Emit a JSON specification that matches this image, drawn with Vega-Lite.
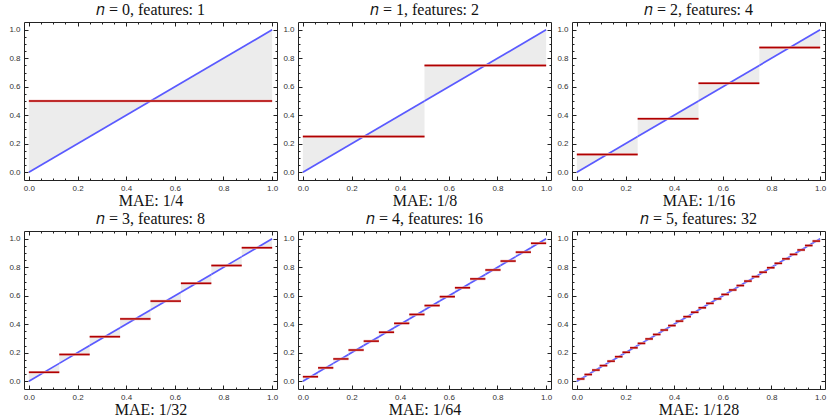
{
  "$schema": "https://vega.github.io/schema/vega-lite/v6.json",
  "padding": {"left": 8, "top": 1, "right": 5, "bottom": 0},
  "background": "white",
  "config": {
    "view": {"stroke": "#222222", "strokeWidth": 1},
    "axis": {"domain": false, "grid": false, "tickColor": "#222222", "tickWidth": 1, "labelFont": "Liberation Sans", "labelFontSize": 8, "labelColor": "#333333", "labelFlush": false, "labelOverlap": false, "labelBound": false},
    "title": {"font": "Liberation Serif", "fontSize": 16, "fontWeight": "normal", "color": "#111111", "anchor": "middle", "offset": 4, "baseline": "alphabetic", "frame": "group"}
  },
  "datasets": {
    "seg": [
      {"p": 0, "a": 0, "b": 1, "c": 0.5},
      {"p": 1, "a": 0, "b": 0.5, "c": 0.25},
      {"p": 1, "a": 0.5, "b": 1, "c": 0.75},
      {"p": 2, "a": 0, "b": 0.25, "c": 0.125},
      {"p": 2, "a": 0.25, "b": 0.5, "c": 0.375},
      {"p": 2, "a": 0.5, "b": 0.75, "c": 0.625},
      {"p": 2, "a": 0.75, "b": 1, "c": 0.875},
      {"p": 3, "a": 0, "b": 0.125, "c": 0.0625},
      {"p": 3, "a": 0.125, "b": 0.25, "c": 0.1875},
      {"p": 3, "a": 0.25, "b": 0.375, "c": 0.3125},
      {"p": 3, "a": 0.375, "b": 0.5, "c": 0.4375},
      {"p": 3, "a": 0.5, "b": 0.625, "c": 0.5625},
      {"p": 3, "a": 0.625, "b": 0.75, "c": 0.6875},
      {"p": 3, "a": 0.75, "b": 0.875, "c": 0.8125},
      {"p": 3, "a": 0.875, "b": 1, "c": 0.9375},
      {"p": 4, "a": 0, "b": 0.0625, "c": 0.03125},
      {"p": 4, "a": 0.0625, "b": 0.125, "c": 0.09375},
      {"p": 4, "a": 0.125, "b": 0.1875, "c": 0.15625},
      {"p": 4, "a": 0.1875, "b": 0.25, "c": 0.21875},
      {"p": 4, "a": 0.25, "b": 0.3125, "c": 0.28125},
      {"p": 4, "a": 0.3125, "b": 0.375, "c": 0.34375},
      {"p": 4, "a": 0.375, "b": 0.4375, "c": 0.40625},
      {"p": 4, "a": 0.4375, "b": 0.5, "c": 0.46875},
      {"p": 4, "a": 0.5, "b": 0.5625, "c": 0.53125},
      {"p": 4, "a": 0.5625, "b": 0.625, "c": 0.59375},
      {"p": 4, "a": 0.625, "b": 0.6875, "c": 0.65625},
      {"p": 4, "a": 0.6875, "b": 0.75, "c": 0.71875},
      {"p": 4, "a": 0.75, "b": 0.8125, "c": 0.78125},
      {"p": 4, "a": 0.8125, "b": 0.875, "c": 0.84375},
      {"p": 4, "a": 0.875, "b": 0.9375, "c": 0.90625},
      {"p": 4, "a": 0.9375, "b": 1, "c": 0.96875},
      {"p": 5, "a": 0, "b": 0.03125, "c": 0.015625},
      {"p": 5, "a": 0.03125, "b": 0.0625, "c": 0.046875},
      {"p": 5, "a": 0.0625, "b": 0.09375, "c": 0.078125},
      {"p": 5, "a": 0.09375, "b": 0.125, "c": 0.109375},
      {"p": 5, "a": 0.125, "b": 0.15625, "c": 0.140625},
      {"p": 5, "a": 0.15625, "b": 0.1875, "c": 0.171875},
      {"p": 5, "a": 0.1875, "b": 0.21875, "c": 0.203125},
      {"p": 5, "a": 0.21875, "b": 0.25, "c": 0.234375},
      {"p": 5, "a": 0.25, "b": 0.28125, "c": 0.265625},
      {"p": 5, "a": 0.28125, "b": 0.3125, "c": 0.296875},
      {"p": 5, "a": 0.3125, "b": 0.34375, "c": 0.328125},
      {"p": 5, "a": 0.34375, "b": 0.375, "c": 0.359375},
      {"p": 5, "a": 0.375, "b": 0.40625, "c": 0.390625},
      {"p": 5, "a": 0.40625, "b": 0.4375, "c": 0.421875},
      {"p": 5, "a": 0.4375, "b": 0.46875, "c": 0.453125},
      {"p": 5, "a": 0.46875, "b": 0.5, "c": 0.484375},
      {"p": 5, "a": 0.5, "b": 0.53125, "c": 0.515625},
      {"p": 5, "a": 0.53125, "b": 0.5625, "c": 0.546875},
      {"p": 5, "a": 0.5625, "b": 0.59375, "c": 0.578125},
      {"p": 5, "a": 0.59375, "b": 0.625, "c": 0.609375},
      {"p": 5, "a": 0.625, "b": 0.65625, "c": 0.640625},
      {"p": 5, "a": 0.65625, "b": 0.6875, "c": 0.671875},
      {"p": 5, "a": 0.6875, "b": 0.71875, "c": 0.703125},
      {"p": 5, "a": 0.71875, "b": 0.75, "c": 0.734375},
      {"p": 5, "a": 0.75, "b": 0.78125, "c": 0.765625},
      {"p": 5, "a": 0.78125, "b": 0.8125, "c": 0.796875},
      {"p": 5, "a": 0.8125, "b": 0.84375, "c": 0.828125},
      {"p": 5, "a": 0.84375, "b": 0.875, "c": 0.859375},
      {"p": 5, "a": 0.875, "b": 0.90625, "c": 0.890625},
      {"p": 5, "a": 0.90625, "b": 0.9375, "c": 0.921875},
      {"p": 5, "a": 0.9375, "b": 0.96875, "c": 0.953125},
      {"p": 5, "a": 0.96875, "b": 1, "c": 0.984375}
    ]
  },
  "columns": 3,
  "bounds": "flush",
  "spacing": {"row": 51, "column": 21},
  "concat": [
    {
      "width": 253, "height": 158,
      "title": "𝑛 = 0, features: 1",
      "data": {"name": "seg"},
      "transform": [{"filter": "datum.p == 0"}],
      "resolve": {"axis": {"x": "independent", "y": "independent"}},
      "layer": [
        {"mark": {"type": "area", "color": "#ececec"}, "transform": [{"fold": ["a", "b"], "as": ["k", "v"]}],
         "encoding": {
           "x": {"field": "v", "type": "quantitative", "scale": {"domain": [-0.02, 1.02], "nice": false, "zero": false}, "axis": {"orient": "bottom", "values": [0, 0.2, 0.4, 0.6, 0.8, 1], "format": ".1f", "tickSize": -4, "labelPadding": 8, "title": "MAE: 1/4", "titleFont": "Liberation Serif", "titleFontSize": 16, "titleFontWeight": "normal", "titleColor": "#111111", "titlePadding": 0}},
           "y": {"field": "c", "type": "quantitative", "scale": {"domain": [-0.055, 1.055], "nice": false, "zero": false}, "axis": {"orient": "left", "values": [0, 0.2, 0.4, 0.6, 0.8, 1], "format": ".1f", "tickSize": -4, "labelPadding": 8, "title": null}},
           "y2": {"field": "v"},
           "detail": {"field": "a", "type": "quantitative"}
         }},
        {"mark": {"type": "rule", "color": "#5a5aff", "strokeWidth": 1.7},
         "encoding": {
           "x": {"field": "a", "type": "quantitative", "scale": {"domain": [-0.02, 1.02], "nice": false, "zero": false}, "axis": {"orient": "bottom", "values": [0.05, 0.1, 0.15, 0.25, 0.3, 0.35, 0.45, 0.5, 0.55, 0.65, 0.7, 0.75, 0.85, 0.9, 0.95], "tickSize": -2, "labels": false, "title": null}},
           "x2": {"field": "b"},
           "y": {"field": "a", "type": "quantitative", "scale": {"domain": [-0.055, 1.055], "nice": false, "zero": false}, "axis": {"orient": "left", "values": [0.05, 0.1, 0.15, 0.25, 0.3, 0.35, 0.45, 0.5, 0.55, 0.65, 0.7, 0.75, 0.85, 0.9, 0.95], "tickSize": -2, "labels": false, "title": null}},
           "y2": {"field": "b"}
         }},
        {"mark": {"type": "rule", "color": "#eab0b0", "strokeWidth": 2.6},
         "encoding": {
           "x": {"field": "a", "type": "quantitative", "scale": {"domain": [-0.02, 1.02], "nice": false, "zero": false}, "axis": {"orient": "top", "values": [0, 0.2, 0.4, 0.6, 0.8, 1], "tickSize": -4, "labels": false, "title": null}},
           "x2": {"field": "b"},
           "y": {"field": "c", "type": "quantitative", "scale": {"domain": [-0.055, 1.055], "nice": false, "zero": false}, "axis": {"orient": "right", "values": [0, 0.2, 0.4, 0.6, 0.8, 1], "tickSize": -4, "labels": false, "title": null}}
         }},
        {"mark": {"type": "rule", "color": "#b00000", "strokeWidth": 1.5},
         "encoding": {
           "x": {"field": "a", "type": "quantitative", "scale": {"domain": [-0.02, 1.02], "nice": false, "zero": false}, "axis": {"orient": "top", "values": [0.05, 0.1, 0.15, 0.25, 0.3, 0.35, 0.45, 0.5, 0.55, 0.65, 0.7, 0.75, 0.85, 0.9, 0.95], "tickSize": -2, "labels": false, "title": null}},
           "x2": {"field": "b"},
           "y": {"field": "c", "type": "quantitative", "scale": {"domain": [-0.055, 1.055], "nice": false, "zero": false}, "axis": {"orient": "right", "values": [0.05, 0.1, 0.15, 0.25, 0.3, 0.35, 0.45, 0.5, 0.55, 0.65, 0.7, 0.75, 0.85, 0.9, 0.95], "tickSize": -2, "labels": false, "title": null}}
         }}
      ]
    },
    {
      "width": 253, "height": 158,
      "title": "𝑛 = 1, features: 2",
      "data": {"name": "seg"},
      "transform": [{"filter": "datum.p == 1"}],
      "resolve": {"axis": {"x": "independent", "y": "independent"}},
      "layer": [
        {"mark": {"type": "area", "color": "#ececec"}, "transform": [{"fold": ["a", "b"], "as": ["k", "v"]}],
         "encoding": {
           "x": {"field": "v", "type": "quantitative", "scale": {"domain": [-0.02, 1.02], "nice": false, "zero": false}, "axis": {"orient": "bottom", "values": [0, 0.2, 0.4, 0.6, 0.8, 1], "format": ".1f", "tickSize": -4, "labelPadding": 8, "title": "MAE: 1/8", "titleFont": "Liberation Serif", "titleFontSize": 16, "titleFontWeight": "normal", "titleColor": "#111111", "titlePadding": 0}},
           "y": {"field": "c", "type": "quantitative", "scale": {"domain": [-0.055, 1.055], "nice": false, "zero": false}, "axis": {"orient": "left", "values": [0, 0.2, 0.4, 0.6, 0.8, 1], "format": ".1f", "tickSize": -4, "labelPadding": 8, "title": null}},
           "y2": {"field": "v"},
           "detail": {"field": "a", "type": "quantitative"}
         }},
        {"mark": {"type": "rule", "color": "#5a5aff", "strokeWidth": 1.7},
         "encoding": {
           "x": {"field": "a", "type": "quantitative", "scale": {"domain": [-0.02, 1.02], "nice": false, "zero": false}, "axis": {"orient": "bottom", "values": [0.05, 0.1, 0.15, 0.25, 0.3, 0.35, 0.45, 0.5, 0.55, 0.65, 0.7, 0.75, 0.85, 0.9, 0.95], "tickSize": -2, "labels": false, "title": null}},
           "x2": {"field": "b"},
           "y": {"field": "a", "type": "quantitative", "scale": {"domain": [-0.055, 1.055], "nice": false, "zero": false}, "axis": {"orient": "left", "values": [0.05, 0.1, 0.15, 0.25, 0.3, 0.35, 0.45, 0.5, 0.55, 0.65, 0.7, 0.75, 0.85, 0.9, 0.95], "tickSize": -2, "labels": false, "title": null}},
           "y2": {"field": "b"}
         }},
        {"mark": {"type": "rule", "color": "#eab0b0", "strokeWidth": 2.6},
         "encoding": {
           "x": {"field": "a", "type": "quantitative", "scale": {"domain": [-0.02, 1.02], "nice": false, "zero": false}, "axis": {"orient": "top", "values": [0, 0.2, 0.4, 0.6, 0.8, 1], "tickSize": -4, "labels": false, "title": null}},
           "x2": {"field": "b"},
           "y": {"field": "c", "type": "quantitative", "scale": {"domain": [-0.055, 1.055], "nice": false, "zero": false}, "axis": {"orient": "right", "values": [0, 0.2, 0.4, 0.6, 0.8, 1], "tickSize": -4, "labels": false, "title": null}}
         }},
        {"mark": {"type": "rule", "color": "#b00000", "strokeWidth": 1.5},
         "encoding": {
           "x": {"field": "a", "type": "quantitative", "scale": {"domain": [-0.02, 1.02], "nice": false, "zero": false}, "axis": {"orient": "top", "values": [0.05, 0.1, 0.15, 0.25, 0.3, 0.35, 0.45, 0.5, 0.55, 0.65, 0.7, 0.75, 0.85, 0.9, 0.95], "tickSize": -2, "labels": false, "title": null}},
           "x2": {"field": "b"},
           "y": {"field": "c", "type": "quantitative", "scale": {"domain": [-0.055, 1.055], "nice": false, "zero": false}, "axis": {"orient": "right", "values": [0.05, 0.1, 0.15, 0.25, 0.3, 0.35, 0.45, 0.5, 0.55, 0.65, 0.7, 0.75, 0.85, 0.9, 0.95], "tickSize": -2, "labels": false, "title": null}}
         }}
      ]
    },
    {
      "width": 253, "height": 158,
      "title": "𝑛 = 2, features: 4",
      "data": {"name": "seg"},
      "transform": [{"filter": "datum.p == 2"}],
      "resolve": {"axis": {"x": "independent", "y": "independent"}},
      "layer": [
        {"mark": {"type": "area", "color": "#ececec"}, "transform": [{"fold": ["a", "b"], "as": ["k", "v"]}],
         "encoding": {
           "x": {"field": "v", "type": "quantitative", "scale": {"domain": [-0.02, 1.02], "nice": false, "zero": false}, "axis": {"orient": "bottom", "values": [0, 0.2, 0.4, 0.6, 0.8, 1], "format": ".1f", "tickSize": -4, "labelPadding": 8, "title": "MAE: 1/16", "titleFont": "Liberation Serif", "titleFontSize": 16, "titleFontWeight": "normal", "titleColor": "#111111", "titlePadding": 0}},
           "y": {"field": "c", "type": "quantitative", "scale": {"domain": [-0.055, 1.055], "nice": false, "zero": false}, "axis": {"orient": "left", "values": [0, 0.2, 0.4, 0.6, 0.8, 1], "format": ".1f", "tickSize": -4, "labelPadding": 8, "title": null}},
           "y2": {"field": "v"},
           "detail": {"field": "a", "type": "quantitative"}
         }},
        {"mark": {"type": "rule", "color": "#5a5aff", "strokeWidth": 1.7},
         "encoding": {
           "x": {"field": "a", "type": "quantitative", "scale": {"domain": [-0.02, 1.02], "nice": false, "zero": false}, "axis": {"orient": "bottom", "values": [0.05, 0.1, 0.15, 0.25, 0.3, 0.35, 0.45, 0.5, 0.55, 0.65, 0.7, 0.75, 0.85, 0.9, 0.95], "tickSize": -2, "labels": false, "title": null}},
           "x2": {"field": "b"},
           "y": {"field": "a", "type": "quantitative", "scale": {"domain": [-0.055, 1.055], "nice": false, "zero": false}, "axis": {"orient": "left", "values": [0.05, 0.1, 0.15, 0.25, 0.3, 0.35, 0.45, 0.5, 0.55, 0.65, 0.7, 0.75, 0.85, 0.9, 0.95], "tickSize": -2, "labels": false, "title": null}},
           "y2": {"field": "b"}
         }},
        {"mark": {"type": "rule", "color": "#eab0b0", "strokeWidth": 2.6},
         "encoding": {
           "x": {"field": "a", "type": "quantitative", "scale": {"domain": [-0.02, 1.02], "nice": false, "zero": false}, "axis": {"orient": "top", "values": [0, 0.2, 0.4, 0.6, 0.8, 1], "tickSize": -4, "labels": false, "title": null}},
           "x2": {"field": "b"},
           "y": {"field": "c", "type": "quantitative", "scale": {"domain": [-0.055, 1.055], "nice": false, "zero": false}, "axis": {"orient": "right", "values": [0, 0.2, 0.4, 0.6, 0.8, 1], "tickSize": -4, "labels": false, "title": null}}
         }},
        {"mark": {"type": "rule", "color": "#b00000", "strokeWidth": 1.5},
         "encoding": {
           "x": {"field": "a", "type": "quantitative", "scale": {"domain": [-0.02, 1.02], "nice": false, "zero": false}, "axis": {"orient": "top", "values": [0.05, 0.1, 0.15, 0.25, 0.3, 0.35, 0.45, 0.5, 0.55, 0.65, 0.7, 0.75, 0.85, 0.9, 0.95], "tickSize": -2, "labels": false, "title": null}},
           "x2": {"field": "b"},
           "y": {"field": "c", "type": "quantitative", "scale": {"domain": [-0.055, 1.055], "nice": false, "zero": false}, "axis": {"orient": "right", "values": [0.05, 0.1, 0.15, 0.25, 0.3, 0.35, 0.45, 0.5, 0.55, 0.65, 0.7, 0.75, 0.85, 0.9, 0.95], "tickSize": -2, "labels": false, "title": null}}
         }}
      ]
    },
    {
      "width": 253, "height": 158,
      "title": "𝑛 = 3, features: 8",
      "data": {"name": "seg"},
      "transform": [{"filter": "datum.p == 3"}],
      "resolve": {"axis": {"x": "independent", "y": "independent"}},
      "layer": [
        {"mark": {"type": "area", "color": "#ececec"}, "transform": [{"fold": ["a", "b"], "as": ["k", "v"]}],
         "encoding": {
           "x": {"field": "v", "type": "quantitative", "scale": {"domain": [-0.02, 1.02], "nice": false, "zero": false}, "axis": {"orient": "bottom", "values": [0, 0.2, 0.4, 0.6, 0.8, 1], "format": ".1f", "tickSize": -4, "labelPadding": 8, "title": "MAE: 1/32", "titleFont": "Liberation Serif", "titleFontSize": 16, "titleFontWeight": "normal", "titleColor": "#111111", "titlePadding": 0}},
           "y": {"field": "c", "type": "quantitative", "scale": {"domain": [-0.055, 1.055], "nice": false, "zero": false}, "axis": {"orient": "left", "values": [0, 0.2, 0.4, 0.6, 0.8, 1], "format": ".1f", "tickSize": -4, "labelPadding": 8, "title": null}},
           "y2": {"field": "v"},
           "detail": {"field": "a", "type": "quantitative"}
         }},
        {"mark": {"type": "rule", "color": "#5a5aff", "strokeWidth": 1.7},
         "encoding": {
           "x": {"field": "a", "type": "quantitative", "scale": {"domain": [-0.02, 1.02], "nice": false, "zero": false}, "axis": {"orient": "bottom", "values": [0.05, 0.1, 0.15, 0.25, 0.3, 0.35, 0.45, 0.5, 0.55, 0.65, 0.7, 0.75, 0.85, 0.9, 0.95], "tickSize": -2, "labels": false, "title": null}},
           "x2": {"field": "b"},
           "y": {"field": "a", "type": "quantitative", "scale": {"domain": [-0.055, 1.055], "nice": false, "zero": false}, "axis": {"orient": "left", "values": [0.05, 0.1, 0.15, 0.25, 0.3, 0.35, 0.45, 0.5, 0.55, 0.65, 0.7, 0.75, 0.85, 0.9, 0.95], "tickSize": -2, "labels": false, "title": null}},
           "y2": {"field": "b"}
         }},
        {"mark": {"type": "rule", "color": "#eab0b0", "strokeWidth": 2.6},
         "encoding": {
           "x": {"field": "a", "type": "quantitative", "scale": {"domain": [-0.02, 1.02], "nice": false, "zero": false}, "axis": {"orient": "top", "values": [0, 0.2, 0.4, 0.6, 0.8, 1], "tickSize": -4, "labels": false, "title": null}},
           "x2": {"field": "b"},
           "y": {"field": "c", "type": "quantitative", "scale": {"domain": [-0.055, 1.055], "nice": false, "zero": false}, "axis": {"orient": "right", "values": [0, 0.2, 0.4, 0.6, 0.8, 1], "tickSize": -4, "labels": false, "title": null}}
         }},
        {"mark": {"type": "rule", "color": "#b00000", "strokeWidth": 1.5},
         "encoding": {
           "x": {"field": "a", "type": "quantitative", "scale": {"domain": [-0.02, 1.02], "nice": false, "zero": false}, "axis": {"orient": "top", "values": [0.05, 0.1, 0.15, 0.25, 0.3, 0.35, 0.45, 0.5, 0.55, 0.65, 0.7, 0.75, 0.85, 0.9, 0.95], "tickSize": -2, "labels": false, "title": null}},
           "x2": {"field": "b"},
           "y": {"field": "c", "type": "quantitative", "scale": {"domain": [-0.055, 1.055], "nice": false, "zero": false}, "axis": {"orient": "right", "values": [0.05, 0.1, 0.15, 0.25, 0.3, 0.35, 0.45, 0.5, 0.55, 0.65, 0.7, 0.75, 0.85, 0.9, 0.95], "tickSize": -2, "labels": false, "title": null}}
         }}
      ]
    },
    {
      "width": 253, "height": 158,
      "title": "𝑛 = 4, features: 16",
      "data": {"name": "seg"},
      "transform": [{"filter": "datum.p == 4"}],
      "resolve": {"axis": {"x": "independent", "y": "independent"}},
      "layer": [
        {"mark": {"type": "area", "color": "#ececec"}, "transform": [{"fold": ["a", "b"], "as": ["k", "v"]}],
         "encoding": {
           "x": {"field": "v", "type": "quantitative", "scale": {"domain": [-0.02, 1.02], "nice": false, "zero": false}, "axis": {"orient": "bottom", "values": [0, 0.2, 0.4, 0.6, 0.8, 1], "format": ".1f", "tickSize": -4, "labelPadding": 8, "title": "MAE: 1/64", "titleFont": "Liberation Serif", "titleFontSize": 16, "titleFontWeight": "normal", "titleColor": "#111111", "titlePadding": 0}},
           "y": {"field": "c", "type": "quantitative", "scale": {"domain": [-0.055, 1.055], "nice": false, "zero": false}, "axis": {"orient": "left", "values": [0, 0.2, 0.4, 0.6, 0.8, 1], "format": ".1f", "tickSize": -4, "labelPadding": 8, "title": null}},
           "y2": {"field": "v"},
           "detail": {"field": "a", "type": "quantitative"}
         }},
        {"mark": {"type": "rule", "color": "#5a5aff", "strokeWidth": 1.7},
         "encoding": {
           "x": {"field": "a", "type": "quantitative", "scale": {"domain": [-0.02, 1.02], "nice": false, "zero": false}, "axis": {"orient": "bottom", "values": [0.05, 0.1, 0.15, 0.25, 0.3, 0.35, 0.45, 0.5, 0.55, 0.65, 0.7, 0.75, 0.85, 0.9, 0.95], "tickSize": -2, "labels": false, "title": null}},
           "x2": {"field": "b"},
           "y": {"field": "a", "type": "quantitative", "scale": {"domain": [-0.055, 1.055], "nice": false, "zero": false}, "axis": {"orient": "left", "values": [0.05, 0.1, 0.15, 0.25, 0.3, 0.35, 0.45, 0.5, 0.55, 0.65, 0.7, 0.75, 0.85, 0.9, 0.95], "tickSize": -2, "labels": false, "title": null}},
           "y2": {"field": "b"}
         }},
        {"mark": {"type": "rule", "color": "#eab0b0", "strokeWidth": 2.6},
         "encoding": {
           "x": {"field": "a", "type": "quantitative", "scale": {"domain": [-0.02, 1.02], "nice": false, "zero": false}, "axis": {"orient": "top", "values": [0, 0.2, 0.4, 0.6, 0.8, 1], "tickSize": -4, "labels": false, "title": null}},
           "x2": {"field": "b"},
           "y": {"field": "c", "type": "quantitative", "scale": {"domain": [-0.055, 1.055], "nice": false, "zero": false}, "axis": {"orient": "right", "values": [0, 0.2, 0.4, 0.6, 0.8, 1], "tickSize": -4, "labels": false, "title": null}}
         }},
        {"mark": {"type": "rule", "color": "#b00000", "strokeWidth": 1.5},
         "encoding": {
           "x": {"field": "a", "type": "quantitative", "scale": {"domain": [-0.02, 1.02], "nice": false, "zero": false}, "axis": {"orient": "top", "values": [0.05, 0.1, 0.15, 0.25, 0.3, 0.35, 0.45, 0.5, 0.55, 0.65, 0.7, 0.75, 0.85, 0.9, 0.95], "tickSize": -2, "labels": false, "title": null}},
           "x2": {"field": "b"},
           "y": {"field": "c", "type": "quantitative", "scale": {"domain": [-0.055, 1.055], "nice": false, "zero": false}, "axis": {"orient": "right", "values": [0.05, 0.1, 0.15, 0.25, 0.3, 0.35, 0.45, 0.5, 0.55, 0.65, 0.7, 0.75, 0.85, 0.9, 0.95], "tickSize": -2, "labels": false, "title": null}}
         }}
      ]
    },
    {
      "width": 253, "height": 158,
      "title": "𝑛 = 5, features: 32",
      "data": {"name": "seg"},
      "transform": [{"filter": "datum.p == 5"}],
      "resolve": {"axis": {"x": "independent", "y": "independent"}},
      "layer": [
        {"mark": {"type": "area", "color": "#ececec"}, "transform": [{"fold": ["a", "b"], "as": ["k", "v"]}],
         "encoding": {
           "x": {"field": "v", "type": "quantitative", "scale": {"domain": [-0.02, 1.02], "nice": false, "zero": false}, "axis": {"orient": "bottom", "values": [0, 0.2, 0.4, 0.6, 0.8, 1], "format": ".1f", "tickSize": -4, "labelPadding": 8, "title": "MAE: 1/128", "titleFont": "Liberation Serif", "titleFontSize": 16, "titleFontWeight": "normal", "titleColor": "#111111", "titlePadding": 0}},
           "y": {"field": "c", "type": "quantitative", "scale": {"domain": [-0.055, 1.055], "nice": false, "zero": false}, "axis": {"orient": "left", "values": [0, 0.2, 0.4, 0.6, 0.8, 1], "format": ".1f", "tickSize": -4, "labelPadding": 8, "title": null}},
           "y2": {"field": "v"},
           "detail": {"field": "a", "type": "quantitative"}
         }},
        {"mark": {"type": "rule", "color": "#5a5aff", "strokeWidth": 1.7},
         "encoding": {
           "x": {"field": "a", "type": "quantitative", "scale": {"domain": [-0.02, 1.02], "nice": false, "zero": false}, "axis": {"orient": "bottom", "values": [0.05, 0.1, 0.15, 0.25, 0.3, 0.35, 0.45, 0.5, 0.55, 0.65, 0.7, 0.75, 0.85, 0.9, 0.95], "tickSize": -2, "labels": false, "title": null}},
           "x2": {"field": "b"},
           "y": {"field": "a", "type": "quantitative", "scale": {"domain": [-0.055, 1.055], "nice": false, "zero": false}, "axis": {"orient": "left", "values": [0.05, 0.1, 0.15, 0.25, 0.3, 0.35, 0.45, 0.5, 0.55, 0.65, 0.7, 0.75, 0.85, 0.9, 0.95], "tickSize": -2, "labels": false, "title": null}},
           "y2": {"field": "b"}
         }},
        {"mark": {"type": "rule", "color": "#eab0b0", "strokeWidth": 2.6},
         "encoding": {
           "x": {"field": "a", "type": "quantitative", "scale": {"domain": [-0.02, 1.02], "nice": false, "zero": false}, "axis": {"orient": "top", "values": [0, 0.2, 0.4, 0.6, 0.8, 1], "tickSize": -4, "labels": false, "title": null}},
           "x2": {"field": "b"},
           "y": {"field": "c", "type": "quantitative", "scale": {"domain": [-0.055, 1.055], "nice": false, "zero": false}, "axis": {"orient": "right", "values": [0, 0.2, 0.4, 0.6, 0.8, 1], "tickSize": -4, "labels": false, "title": null}}
         }},
        {"mark": {"type": "rule", "color": "#b00000", "strokeWidth": 1.5},
         "encoding": {
           "x": {"field": "a", "type": "quantitative", "scale": {"domain": [-0.02, 1.02], "nice": false, "zero": false}, "axis": {"orient": "top", "values": [0.05, 0.1, 0.15, 0.25, 0.3, 0.35, 0.45, 0.5, 0.55, 0.65, 0.7, 0.75, 0.85, 0.9, 0.95], "tickSize": -2, "labels": false, "title": null}},
           "x2": {"field": "b"},
           "y": {"field": "c", "type": "quantitative", "scale": {"domain": [-0.055, 1.055], "nice": false, "zero": false}, "axis": {"orient": "right", "values": [0.05, 0.1, 0.15, 0.25, 0.3, 0.35, 0.45, 0.5, 0.55, 0.65, 0.7, 0.75, 0.85, 0.9, 0.95], "tickSize": -2, "labels": false, "title": null}}
         }}
      ]
    }
  ]
}
